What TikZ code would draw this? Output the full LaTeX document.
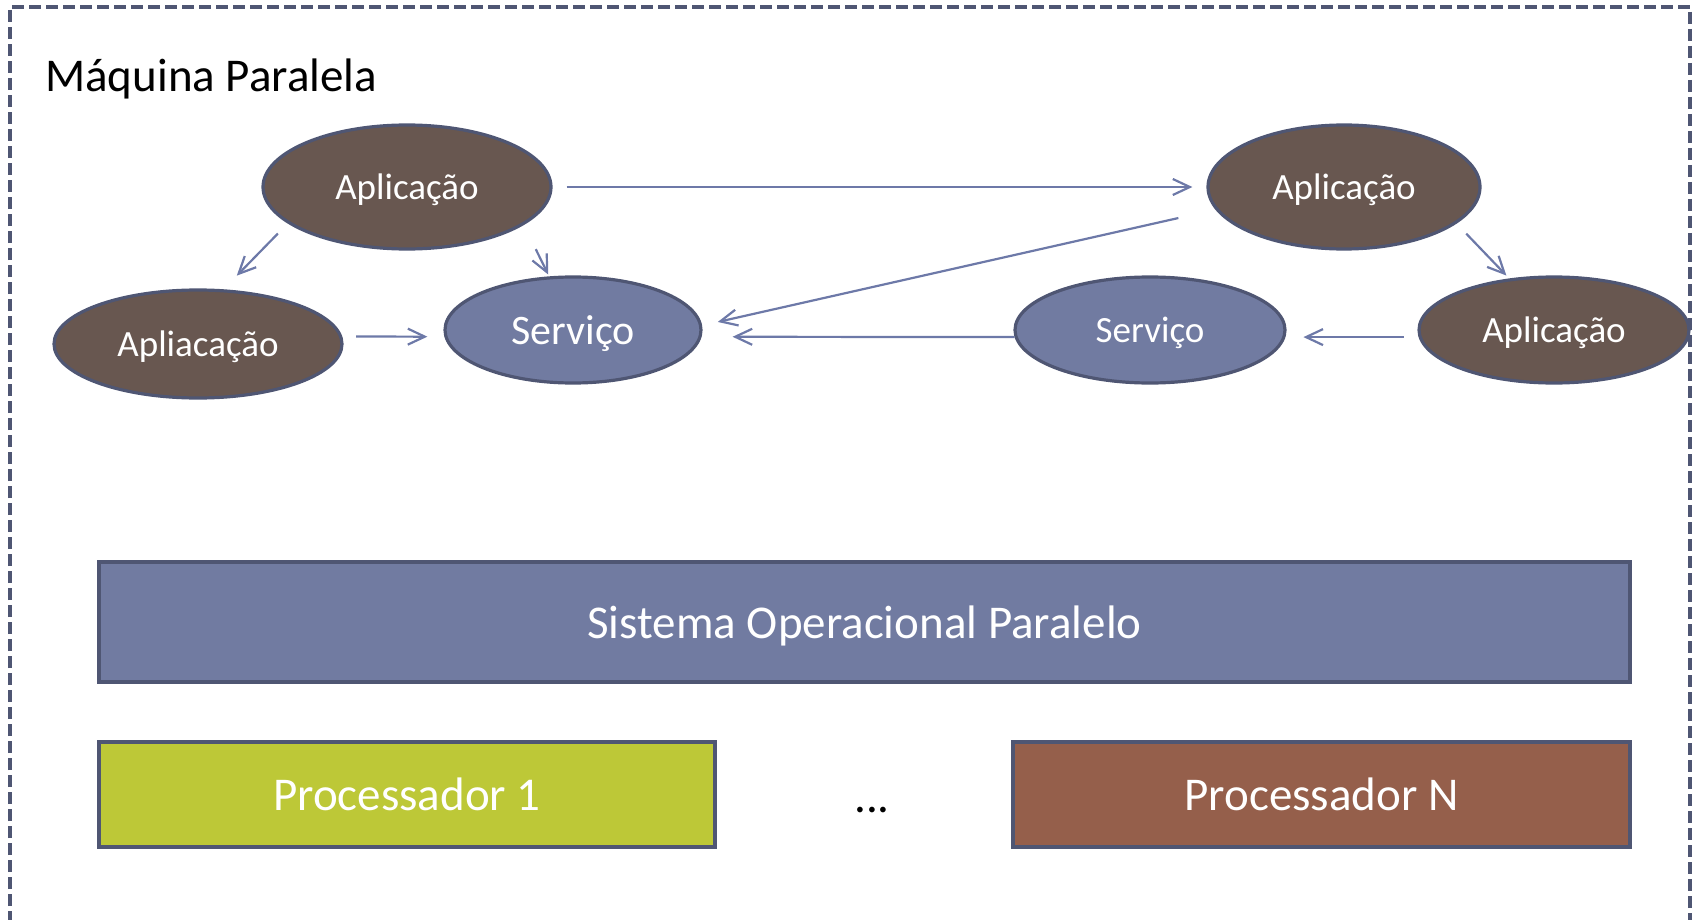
\documentclass[tikz,border=0pt]{standalone}
\usepackage{fontspec}
\setmainfont{Carlito}
\usepackage[HTML]{xcolor}
\usetikzlibrary{shapes.geometric, arrows.meta, positioning}

\definecolor{appbrown}{HTML}{685750}
\definecolor{servblue}{HTML}{717BA1}
\definecolor{edgeblue}{HTML}{4F5673}
\definecolor{arrowblue}{HTML}{6D79A8}
\definecolor{procgreen}{HTML}{BDC837}
\definecolor{procred}{HTML}{955F4B}

\begin{document}
\begin{tikzpicture}[x=1pt,y=-1pt,
  app/.style={ellipse,draw=edgeblue,line width=3.2pt,fill=appbrown,text=white,inner sep=0pt,text depth=0pt,font=\fontsize{37}{44}\selectfont},
  serv/.style={app,fill=servblue},
  block/.style={rectangle,draw=edgeblue,line width=3.6pt,text=white,inner sep=0pt,text depth=0pt,font=\fontsize{47}{56}\selectfont},
  link/.style={draw=arrowblue,line width=2.2pt,-{Straight Barb[length=17pt,width=16pt]}}]
\useasboundingbox (0,0) rectangle (1694,920);

% outer dashed frame, open at the bottom
\draw[edgeblue,line width=4pt,dash pattern=on 12pt off 5pt] (10,940) -- (10,7) -- (1690,7) -- (1690,940);
\node[anchor=base west,inner sep=0pt,font=\fontsize{47}{56}\selectfont] (title) at (45,92) {Máquina Paralela};

% applications and services
\node[app,minimum width=288pt,minimum height=124pt] (app1) at (407,187) {Aplicação};
\node[app,minimum width=272pt,minimum height=124pt] (app2) at (1344,187) {Aplicação};
\node[app,minimum width=288pt,minimum height=108pt] (app3) at (198,344) {Apliacação};
\node[app,minimum width=270pt,minimum height=106pt] (app4) at (1554,330) {Aplicação};
\node[serv,minimum width=256pt,minimum height=106pt,font=\fontsize{42}{50}\selectfont] (serv1) at (573,330) {Serviço};
\node[serv,minimum width=270pt,minimum height=106pt] (serv2) at (1150,330) {Serviço};

\draw[link,shorten <=14pt,shorten >=14pt] (app1.0) -- (app2.180);
\draw[link,shorten <=14pt,shorten >=19pt] (app1.197) -- (app3.65);
\draw[link,shorten <=27pt,shorten >=2pt] (app1.342) -- (serv1.114);
\draw[link,shorten <=14pt,shorten >=17pt] (app3.3) -- (serv1.183);
\draw[link,shorten <=38pt,shorten >=16pt] (app2.190) -- (serv1.2);
\draw[link,shorten >=31pt] (serv2.183) -- (serv1.357);
\draw[link,shorten <=14pt,shorten >=4pt] (app2.342) -- (app4.131);
\draw[link,shorten <=15pt,shorten >=18pt] (app4.183) -- (serv2.357);

% operating system and processors
\node[block,fill=servblue,minimum width=1531pt,minimum height=120pt] (so) at (864.5,622) {Sistema Operacional Paralelo};
\node[block,fill=procgreen,minimum width=616pt,minimum height=105pt] (proc1) at (407,794.5) {Processador 1};
\node[block,fill=procred,minimum width=617pt,minimum height=105pt] (procN) at (1321.5,794.5) {Processador N};
\node[anchor=base,inner sep=0pt,font=\fontsize{47}{56}\selectfont] (dots) at (872,812) {...};
\end{tikzpicture}
\end{document}
